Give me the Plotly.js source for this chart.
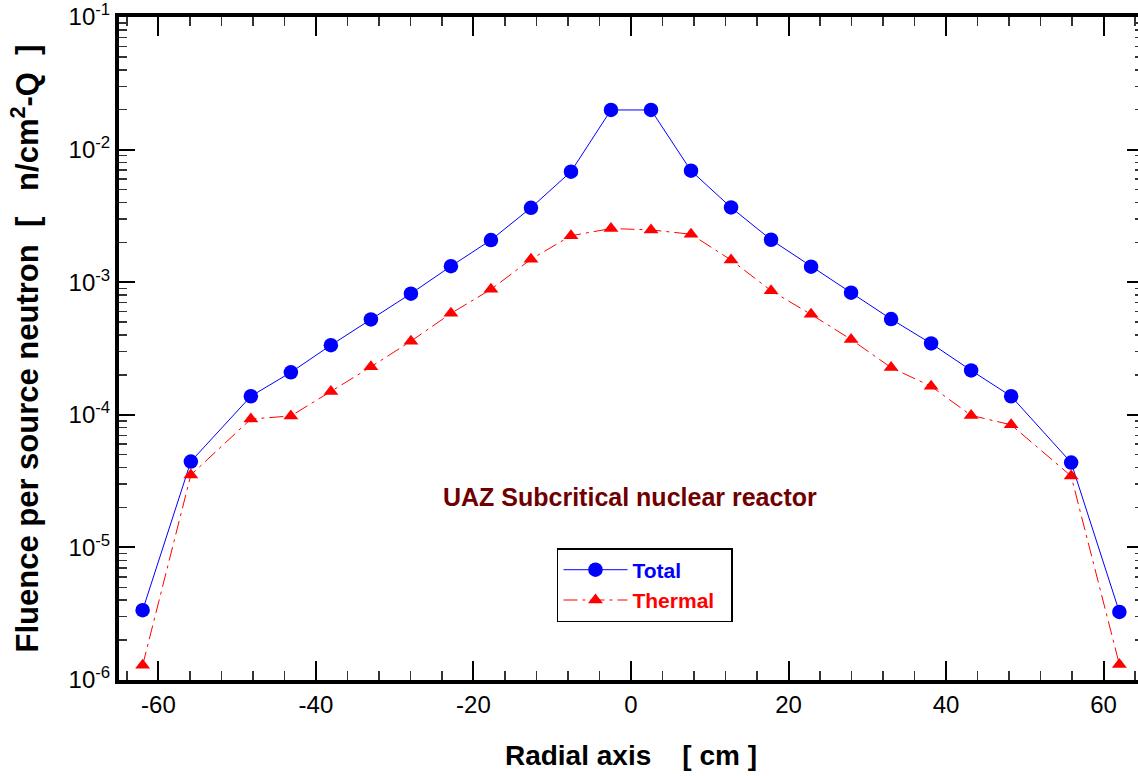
<!DOCTYPE html>
<html>
<head>
<meta charset="utf-8">
<script src="https://cdn.plot.ly/plotly-3.0.1.min.js"></script>
<style>
html, body { margin:0; padding:0; background:#fff; overflow:hidden; width:1138px; height:776px; }
#chart { width:1146px; height:776px; }
</style>
</head>
<body>
<div id="chart"></div>
<script>
// Radial positions [cm]
const radialPos = [-62.0, -55.88, -48.26, -43.18, -38.10, -33.02, -27.94, -22.86, -17.78, -12.70, -7.62, -2.54,
                   2.54, 7.62, 12.70, 17.78, 22.86, 27.94, 33.02, 38.10, 43.18, 48.26, 55.88, 62.0];
// Total fluence per source neutron
const totalFluence = [3.36e-6, 4.44e-5, 1.38e-4, 2.09e-4, 3.35e-4, 5.24e-4, 8.2e-4, 1.32e-3, 2.08e-3, 3.64e-3, 6.82e-3, 1.99e-2,
                      1.99e-2, 6.93e-3, 3.66e-3, 2.09e-3, 1.31e-3, 8.34e-4, 5.27e-4, 3.45e-4, 2.16e-4, 1.38e-4, 4.36e-5, 3.26e-6];
// Thermal fluence per source neutron
const thermalFluence = [1.29e-6, 3.52e-5, 9.29e-5, 9.8e-5, 1.50e-4, 2.30e-4, 3.59e-4, 5.82e-4, 8.83e-4, 1.49e-3, 2.24e-3, 2.54e-3,
                        2.48e-3, 2.30e-3, 1.47e-3, 8.63e-4, 5.72e-4, 3.70e-4, 2.27e-4, 1.64e-4, 9.9e-5, 8.4e-5, 3.45e-5, 1.31e-6];
// Tick labels
const yTickVals = [1e-6, 1e-5, 1e-4, 1e-3, 1e-2, 1e-1];
const yTickText = ['10<sup>-6</sup>', '10<sup>-5</sup>', '10<sup>-4</sup>', '10<sup>-3</sup>', '10<sup>-2</sup>', '10<sup>-1</sup>'];
const xTickVals = [-60, -40, -20, 0, 20, 40, 60];
const xTickText = ['-60', '-40', '-20', '0', '20', '40', '60'];

const yMinor = [];
for (let e = -6; e < -1; e++) { for (let m = 2; m <= 9; m++) yMinor.push(m * Math.pow(10, e)); }

const FONT = 'Liberation Sans, Arial, sans-serif';

const traces = [
  {
    x: radialPos, y: totalFluence, type: 'scatter', mode: 'lines+markers',
    name: '<b><span style="color:#0000ff">Total</span></b>',
    line: { color: '#0000ff', width: 1 },
    marker: { symbol: 'circle', size: 14.5, color: '#0000ff' }
  },
  {
    x: radialPos, y: thermalFluence, type: 'scatter', mode: 'lines+markers',
    name: '<b><span style="color:#ff0000">Thermal\u00a0\u00a0</span></b>',
    line: { color: '#ff0000', width: 1, dash: '14px,5px,3px,5px' },
    marker: { symbol: 'triangle-up', size: 13, color: '#ff0000' }
  }
];

const layout = {
  width: 1146, height: 776,
  margin: { l: 119, r: 3, t: 17, b: 96 },
  paper_bgcolor: '#fff', plot_bgcolor: '#fff',
  font: { family: FONT, color: '#000' },
  showlegend: true,
  legend: {
    x: 0.4277, y: 0.199, xanchor: 'left', yanchor: 'top',
    bgcolor: '#fff', bordercolor: '#000', borderwidth: 1.5,
    font: { family: FONT, size: 21 },
    itemwidth: 64
  },
  xaxis: {
    range: [-65, 65], showgrid: false, zeroline: false,
    showline: true, linewidth: 4, linecolor: '#000', mirror: 'ticks',
    ticks: 'inside', ticklen: 19, tickwidth: 2, tickcolor: '#000',
    tickmode: 'array', tickvals: xTickVals, ticktext: xTickText,
    tickfont: { family: FONT, size: 24, color: '#000' },
    minor: { dtick: 4, tick0: 0, ticklen: 9, tickwidth: 1.5, tickcolor: '#333', ticks: 'inside', showgrid: false },
    title: { text: '<b>Radial axis\u00a0\u00a0\u00a0\u00a0[ cm ]</b>', font: { family: FONT, size: 28, color: '#000' }, standoff: 30 }
  },
  yaxis: {
    type: 'log', range: [-6, -1], showgrid: false, zeroline: false,
    showline: true, linewidth: 4, linecolor: '#000', mirror: 'ticks',
    ticks: 'inside', ticklen: 16, tickwidth: 2, tickcolor: '#000',
    tickmode: 'array', tickvals: yTickVals, ticktext: yTickText,
    tickfont: { family: FONT, size: 24, color: '#000' },
    minor: { tickmode: 'array', tickvals: yMinor, ticklen: 8, tickwidth: 1.5, tickcolor: '#333', ticks: 'inside', showgrid: false },
    title: { text: '<b>Fluence per source neutron\u00a0\u00a0[\u00a0\u00a0\u00a0n/cm<sup>2</sup>-Q\u00a0\u00a0]</b>', font: { family: FONT, size: 31, color: '#000' }, standoff: 22 }
  },
  annotations: [
    {
      xref: 'paper', yref: 'paper', x: 0.499, y: 0.276, xanchor: 'center', yanchor: 'middle',
      text: '<b>UAZ Subcritical nuclear reactor</b>', showarrow: false,
      font: { family: FONT, size: 25, color: '#700000' }
    }
  ]
};

Plotly.newPlot('chart', traces, layout, { staticPlot: true, displayModeBar: false });
</script>
</body>
</html>
